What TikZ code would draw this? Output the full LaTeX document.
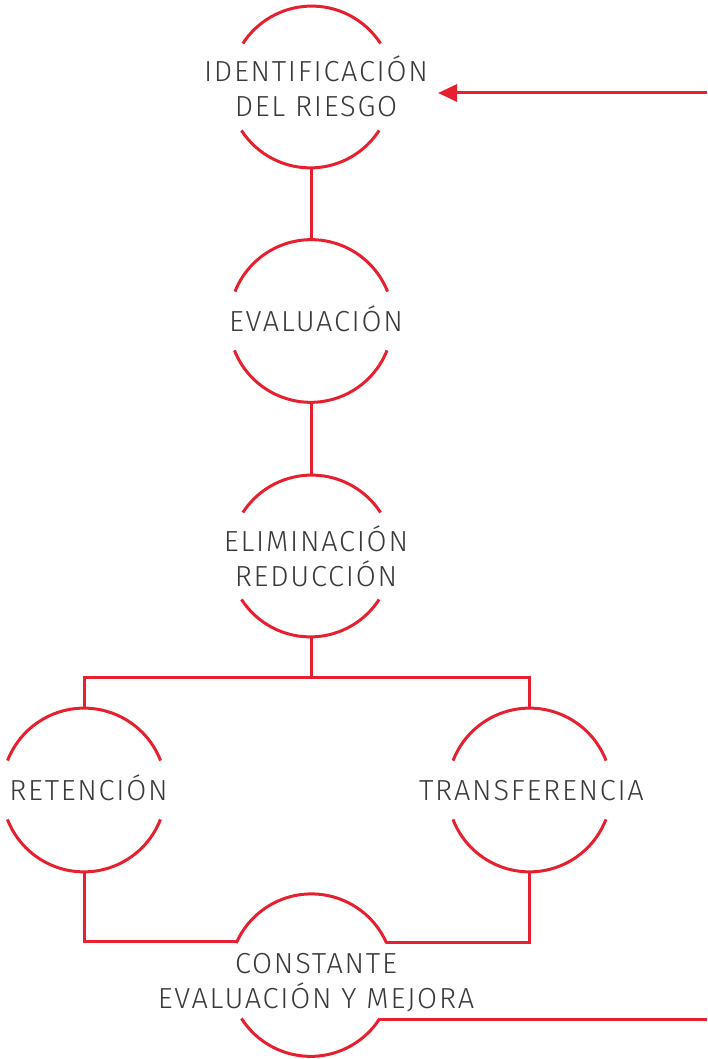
\documentclass[tikz,border=0pt]{standalone}
\usepackage{fontspec}
\setmainfont{Fira Sans Light}[LetterSpace=6]
\usetikzlibrary{arrows.meta,calc}
\definecolor{rred}{HTML}{E6202F}
\definecolor{tgray}{HTML}{3A3A3A}
\begin{document}
\begin{tikzpicture}[x=1pt,y=1pt,
  ring/.style={circle,minimum size=164pt,inner sep=0pt,outer sep=0pt,draw=none},
  lbl/.style={text=tgray,font=\fontsize{29}{35}\selectfont,align=center,inner sep=0pt},
  link/.style={draw=rred,line width=3pt}]
\useasboundingbox (0,0) rectangle (707,1059);
% rings
\node[ring] (c1) at (311,972) {};
\node[ring] (c2) at (311,738) {};
\node[ring] (c3) at (311,503) {};
\node[ring] (c4) at (84,269) {};
\node[ring] (c5) at (529.5,269) {};
\node[ring] (c6) at (311,84) {};
% arcs (cut where the text passes)
\foreach \c/\a in {c1/32.9,c2/21.5,c3/32.9,c4/21.1,c5/21.1}{
  \draw[link] (\c.\a) arc[start angle=\a,end angle=180-\a,radius=82];
  \draw[link] (\c.180+\a) arc[start angle=180+\a,end angle=360-\a,radius=82];
}
\draw[link] (c6.23.7) arc[start angle=23.7,end angle=156.3,radius=82];
\draw[link] (c6.212.5) arc[start angle=212.5,end angle=327.5,radius=82];
% labels (anchor base = baseline of the last line)
\node[lbl,anchor=base] (t1) at (316,942) {IDENTIFICACIÓN\\DEL RIESGO};
\node[lbl,anchor=base] (t2) at (316,727) {EVALUACIÓN};
\node[lbl,anchor=base] (t3) at (316,472) {ELIMINACIÓN\\REDUCCIÓN};
\node[lbl,anchor=base] (t4) at (88.5,258) {RETENCIÓN};
\node[lbl,anchor=base] (t5) at (531.5,258) {TRANSFERENCIA};
\node[lbl,anchor=base] (t6) at (316,50) {CONSTANTE\\EVALUACIÓN Y MEJORA};
% connectors
\coordinate (arrR) at (707,966);
\coordinate (arrT) at (438,966);
\coordinate (fork) at (311,381);
\coordinate (outR) at (707,40);
\draw[link] (c1.south) -- (c2.north);
\draw[link] (c2.south) -- (c3.north);
\draw[link] (c3.south) -- (fork);
\draw[link,line join=miter] (c4.north) |- (fork) -| (c5.north);
\draw[link,line join=miter] (c4.south) |- (c6.156.3);
\draw[link,line join=miter] (c5.south) |- (c6.23.7);
\draw[link] (c6.327.5) -- (c6.327.5 -| outR);
\draw[link,-{Triangle[length=19pt,width=17pt]}] (arrR) -- (arrT);
\end{tikzpicture}
\end{document}
